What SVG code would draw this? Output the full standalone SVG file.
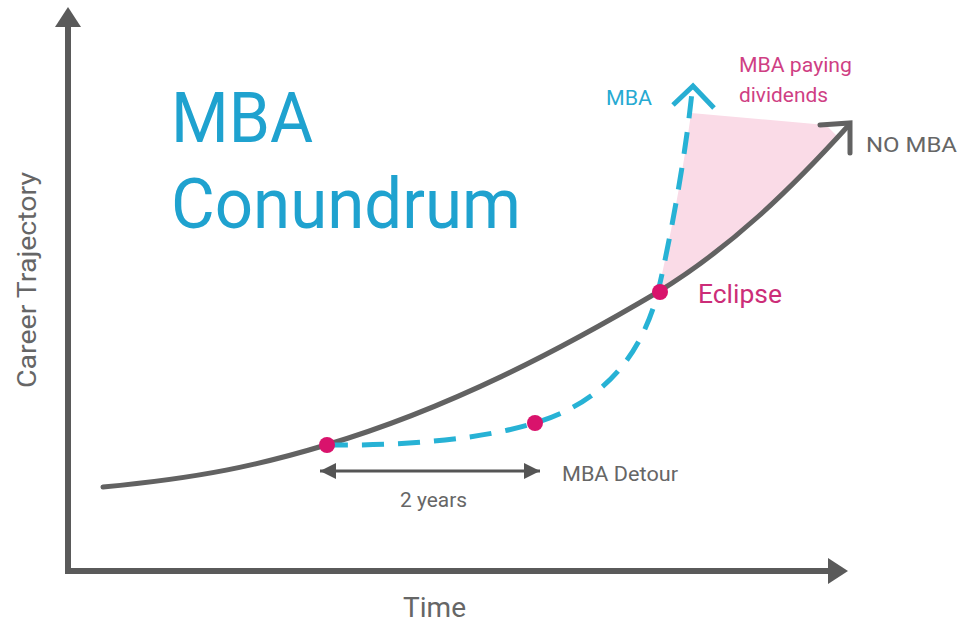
<svg xmlns="http://www.w3.org/2000/svg" width="961" height="625" viewBox="0 0 961 625">
<style>
text{font-family:Roboto,"Open Sans","Liberation Sans",sans-serif}
.title{fill:#1fa2cf;font-size:70px}
.gray{fill:#666666;font-size:20px}
.pink{fill:#cc2d78;font-size:20px}
.blue{fill:#27aad2;font-size:20px}
.axis{stroke:#5a5a5a;stroke-width:6;fill:none}
.curve{stroke:#626262;stroke-width:5;fill:none;stroke-linecap:round;stroke-linejoin:miter}
.dash{stroke:#27b2d5;stroke-width:5;fill:none;stroke-dasharray:22 14}
.dot{fill:#d9136c}
</style>
<defs>
<marker id="dh" viewBox="0 0 10 10" refX="10" refY="5" markerWidth="16" markerHeight="16" markerUnits="userSpaceOnUse" orient="auto-start-reverse">
<path d="M0,0 L10,5 L0,10 Z" fill="#555555"/>
</marker>
</defs>
<rect width="961" height="625" fill="#ffffff"/>

<g id="shade">
<path d="M658,292 C670,240 685,160 691,113 L826,125 L838,137 C780,200 730,248 658,292 Z" fill="#fadbe7"/>
</g>

<g id="axes">
<path class="axis" d="M68,24 L68,571 L830,571"/>
<path d="M68,7 L81,27 L55,27 Z" fill="#5a5a5a"/>
<path d="M848,571 L828,558 L828,584 Z" fill="#5a5a5a"/>
</g>

<g id="connectors">
<path id="nomba-curve" class="curve" d="M103,487 C200,478 260,465 326,445 C450,408 560,350 658,292 C730,248 790,190 848,126"/>
<path class="curve" d="M820,125 L850,123 L850,153"/>
<path id="mba-curve" class="dash" d="M326,445 C400,446 480,440 535,423 C600,403 640,360 658,292 C670,240 685,160 692,92"/>
<path d="M673,105 L693,86 L714,108" stroke="#27aed3" stroke-width="5" fill="none"/>
<line id="detour" x1="320" y1="471" x2="540" y2="471" stroke="#555555" stroke-width="3" marker-start="url(#dh)" marker-end="url(#dh)"/>
</g>

<g id="dots">
<circle class="dot" cx="327" cy="445" r="8"/>
<circle class="dot" cx="535" cy="423" r="8"/>
<circle class="dot" cx="660" cy="292" r="8"/>
</g>

<g id="title">
<text class="title" x="171" y="142" textLength="142" lengthAdjust="spacingAndGlyphs">MBA</text>
<text class="title" x="171" y="228" textLength="350" lengthAdjust="spacingAndGlyphs">Conundrum</text>
</g>

<g id="labels">
<text class="blue" x="606" y="105" textLength="46" lengthAdjust="spacingAndGlyphs">MBA</text>
<text class="pink" x="739" y="72" textLength="113" lengthAdjust="spacingAndGlyphs" style="fill:#cf3f84">MBA paying</text>
<text class="pink" x="739" y="102" textLength="89" lengthAdjust="spacingAndGlyphs" style="fill:#cf3f84">dividends</text>
<text class="gray" x="866" y="152" textLength="91" lengthAdjust="spacingAndGlyphs">NO MBA</text>
<text class="pink" x="698" y="303" style="font-size:25px" textLength="84" lengthAdjust="spacingAndGlyphs">Eclipse</text>
<text class="gray" x="562" y="481" textLength="116" lengthAdjust="spacingAndGlyphs">MBA Detour</text>
<text class="gray" x="400" y="507" textLength="67" lengthAdjust="spacingAndGlyphs">2 years</text>
<text class="gray" x="403" y="617" style="font-size:27px" textLength="63" lengthAdjust="spacingAndGlyphs">Time</text>
<text class="gray" transform="translate(36,388) rotate(-90)" style="font-size:26px" textLength="216" lengthAdjust="spacingAndGlyphs">Career Trajectory</text>
</g>
</svg>
